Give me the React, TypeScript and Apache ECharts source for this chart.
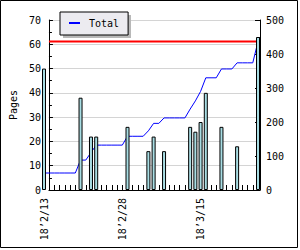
import React, { useEffect, useRef } from "react";
import * as echarts from "echarts";

const categories = [
  "18’2/13", "18’2/14", "18’2/15", "18’2/16", "18’2/17", "18’2/18", "18’2/19", "18’2/20",
  "18’2/21", "18’2/22", "18’2/23", "18’2/24", "18’2/25", "18’2/26", "18’2/27", "18’2/28",
  "18’3/1", "18’3/2", "18’3/3", "18’3/4", "18’3/5", "18’3/6", "18’3/7", "18’3/8",
  "18’3/9", "18’3/10", "18’3/11", "18’3/12", "18’3/13", "18’3/14", "18’3/15", "18’3/16",
  "18’3/17", "18’3/18", "18’3/19", "18’3/20", "18’3/21", "18’3/22", "18’3/23", "18’3/24",
  "18’3/25", "18’3/26",
];

const pages = [
  50, null, null, null, null, null, null, 38, null, 22, 22, null, null, null, null, null,
  26, null, null, null, 16, 22, null, 16, null, null, null, null, 26, 24, 28, 40,
  null, null, 26, null, null, 18, null, null, null, 63,
];

const totals = [
  50, 50, 50, 50, 50, 50, 50, 88, 88, 110, 132, 132, 132, 132, 132, 132,
  158, 158, 158, 158, 174, 196, 196, 212, 212, 212, 212, 212, 238, 262, 290, 330,
  330, 330, 356, 356, 356, 374, 374, 374, 374, 437,
];

const targetTotal = 437;

const FONT = "DejaVu Sans Mono";

export default function App() {
  const ref = useRef<HTMLDivElement>(null);
  useEffect(() => {
    if (!ref.current) return;
    const chart = echarts.init(ref.current, null, { renderer: "svg" });
    const labelStyle = { fontFamily: FONT, fontSize: 10, color: "#000" };
    chart.setOption({
      animation: false,
      backgroundColor: "#ffffff",
      textStyle: { fontFamily: FONT, fontSize: 10, color: "#000" },
      grid: [
        { left: 41, right: 40, top: 20, height: 170 },
        { left: 44, right: 42, top: 20, height: 170 },
      ],
      legend: {
        data: [{ name: "Total", icon: "rect" }],
        left: 60,
        top: 12,
        padding: [5, 9, 6, 9],
        itemWidth: 11,
        itemHeight: 2,
        backgroundColor: "#ecebf0",
        borderColor: "#000",
        borderWidth: 1,
        selectedMode: false,
        textStyle: { ...labelStyle, padding: [0, 0, 0, 4], lineHeight: 12 },
        z: 10,
      },
      graphic: [
        {
          type: "rect",
          z: 5,
          shape: { x: 63, y: 15, width: 68, height: 23 },
          style: { fill: "#b8b8b8" },
          silent: true,
        },
        {
          type: "rect",
          z: 100,
          shape: { x: 0.5, y: 0.5, width: 297, height: 247 },
          style: { fill: "none", stroke: "#000", lineWidth: 1 },
          silent: true,
        },
      ],
      xAxis: [
        {
          gridIndex: 0,
          type: "value",
          min: 0,
          max: 1,
          axisLine: { show: true, onZero: false, lineStyle: { color: "#000", width: 1 } },
          axisTick: { show: false },
          axisLabel: { show: false },
          splitLine: { show: false },
        },
        {
          gridIndex: 1,
          type: "category",
          data: categories,
          boundaryGap: false,
          axisLine: { show: false },
          axisTick: { show: true, inside: true, length: 5, interval: 0, lineStyle: { color: "#000" } },
          axisLabel: { interval: 14, rotate: 90, margin: 8, ...labelStyle },
          splitLine: { show: false },
        },
      ],
      yAxis: [
        {
          gridIndex: 0,
          type: "value",
          min: 0,
          max: 70,
          interval: 10,
          name: "Pages",
          nameLocation: "middle",
          nameGap: 28,
          nameTextStyle: labelStyle,
          axisLine: { show: true, lineStyle: { color: "#000", width: 1 } },
          axisTick: { show: true, inside: true, length: 4, lineStyle: { color: "#000" } },
          minorTick: { show: true, splitNumber: 2, length: 3, lineStyle: { color: "#000" } },
          axisLabel: { margin: 8, ...labelStyle },
          splitLine: { show: true, lineStyle: { color: "#d4d4d4", width: 1 } },
        },
        {
          gridIndex: 0,
          type: "value",
          min: 0,
          max: 500,
          interval: 100,
          position: "right",
          axisLine: { show: true, lineStyle: { color: "#000", width: 1 } },
          axisTick: { show: true, inside: true, length: 5, lineStyle: { color: "#000" } },
          minorTick: { show: true, splitNumber: 2, length: 3, lineStyle: { color: "#000" } },
          axisLabel: { margin: 6, ...labelStyle },
          splitLine: { show: false },
        },
        { gridIndex: 1, type: "value", min: 0, max: 70, show: false },
        { gridIndex: 1, type: "value", min: 0, max: 500, show: false, position: "right" },
      ],
      series: [
        {
          name: "Target",
          type: "line",
          xAxisIndex: 0,
          yAxisIndex: 1,
          data: [
            [0, targetTotal],
            [1, targetTotal],
          ],
          symbol: "none",
          silent: true,
          z: 2,
          lineStyle: { color: "#ff0000", width: 2 },
        },
        {
          name: "Total",
          type: "line",
          xAxisIndex: 1,
          yAxisIndex: 3,
          data: totals,
          symbol: "none",
          z: 3,
          lineStyle: { color: "#0000ff", width: 1 },
          itemStyle: { color: "#0000ff" },
        },
        {
          name: "Pages",
          type: "bar",
          xAxisIndex: 1,
          yAxisIndex: 2,
          data: pages,
          barWidth: 4,
          clip: false,
          z: 4,
          itemStyle: { color: "#a8dde3", borderColor: "#000", borderWidth: 1 },
        },
      ],
    });
    return () => chart.dispose();
  }, []);
  return (
    <div
      ref={ref}
      style={{ position: "absolute", left: 0, top: 0, width: 300, height: 250, background: "#fff" }}
    />
  );
}
